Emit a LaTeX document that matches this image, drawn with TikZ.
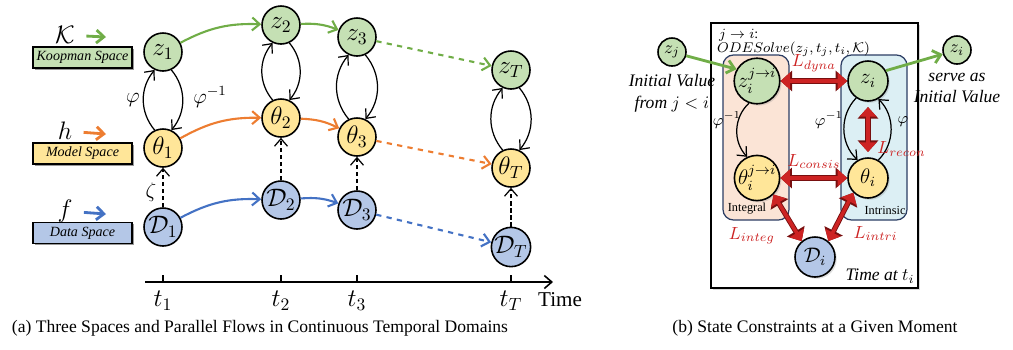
\documentclass[tikz,border=0pt]{standalone}
\usepackage{amsmath,amssymb}
\usepackage{fontspec}
\setmainfont{Liberation Serif}
\usetikzlibrary{arrows.meta,positioning,shadows,calc}
\definecolor{kGreen}{RGB}{197,224,180}
\definecolor{kYellow}{RGB}{255,230,153}
\definecolor{kBlue}{RGB}{180,199,231}
\definecolor{flowGreen}{RGB}{112,173,71}
\definecolor{flowOrange}{RGB}{237,125,49}
\definecolor{flowBlue}{RGB}{68,114,196}
\definecolor{boxPeach}{RGB}{251,228,214}
\definecolor{boxCyan}{RGB}{220,239,244}
\definecolor{boxEdge}{RGB}{44,62,100}
\definecolor{lossRed}{RGB}{205,35,35}
\definecolor{lossDark}{RGB}{120,15,15}

\begin{document}
\begin{tikzpicture}[
      x=0.2mm,y=-0.2mm,
      font=\normalsize,
      >={Straight Barb[length=1.5mm,width=2.6mm]},
      st/.style={circle,draw=black,line width=0.9pt,minimum size=7.6mm,inner sep=0pt,font=\Large},
      zst/.style={st,fill=kGreen},
      tst/.style={st,fill=kYellow},
      dst/.style={st,fill=kBlue},
      bst/.style={minimum size=8mm,font=\large,
                  drop shadow={opacity=0.25,shadow xshift=1pt,shadow yshift=-1pt}},
      sst/.style={minimum size=5.6mm,font=\normalsize},
      spbox/.style={rectangle,draw=black,line width=0.8pt,minimum width=19.8mm,
                    minimum height=4.2mm,inner sep=0pt,font=\footnotesize\itshape,
                    drop shadow={opacity=0.8,shadow xshift=1pt,shadow yshift=-1pt}},
      grp/.style={rectangle,rounded corners=6pt,draw=boxEdge,line width=0.7pt,
                  minimum width=13.2mm,minimum height=33mm},
      gflow/.style={->,flowGreen,line width=1.2pt},
      oflow/.style={->,flowOrange,line width=1.2pt},
      bflow/.style={->,flowBlue,line width=1.2pt},
      cyc/.style={->,black,line width=0.7pt},
      enc/.style={->,line width=0.7pt,dash pattern=on 2.5pt off 1.5pt},
      loss/.style={{Triangle[length=1.9mm,width=3.3mm]}-{Triangle[length=1.9mm,width=3.3mm]},
                   lossRed,line width=2pt,
                   preaction={draw=lossDark,line width=3pt,
                              arrows={Triangle[length=2.3mm,width=4mm]-Triangle[length=2.3mm,width=4mm]}}},
      lbl/.style={text=lossRed}]
    \useasboundingbox (0,0) rectangle (1013,349);

    % ---------- (a) space labels ----------
    \node[spbox,fill=kGreen]  (kbox) at (82.5,57.5)  {Koopman Space};
    \node[spbox,fill=kYellow] (mbox) at (82.5,153.5) {Model Space};
    \node[spbox,fill=kBlue]   (dbox) at (82.5,233)   {Data Space};
    \node[font=\Large] (kop) at (65,35)  {$\mathcal{K}$};
    \node[font=\Large] (hop) at (65,131) {$h$};
    \node[font=\Large] (fop) at (65,211) {$f$};
    \coordinate (kA) at (106,37);
    \coordinate (hA) at (106,134);
    \coordinate (fA) at (106,214);
    \draw[gflow,line width=1.6pt,shorten <=3pt] (kop) -- (kA);
    \draw[oflow,line width=1.6pt,shorten <=3pt] (hop) -- (hA);
    \draw[bflow,line width=1.6pt,shorten <=3pt] (fop) -- (fA);

    % ---------- (a) states ----------
    \node[zst] (z1) at (163,52)  {$z_1$};
    \node[zst] (z2) at (281,25)  {$z_2$};
    \node[zst] (z3) at (357,37)  {$z_3$};
    \node[zst] (zT) at (511,70)  {$z_T$};
    \node[tst] (th1) at (163,148) {$\theta_1$};
    \node[tst] (th2) at (281,118) {$\theta_2$};
    \node[tst] (th3) at (357,137) {$\theta_3$};
    \node[tst] (thT) at (511,168) {$\theta_T$};
    \node[dst] (D1) at (163,227) {$\mathcal{D}_1$};
    \node[dst] (D2) at (281,200) {$\mathcal{D}_2$};
    \node[dst] (D3) at (357,210) {$\mathcal{D}_3$};
    \node[dst] (DT) at (511,247) {$\mathcal{D}_T$};

    \draw[gflow] (z1) to[bend left=15] (z2);
    \draw[gflow] (z2) to[bend left=12] (z3);
    \draw[gflow,dashed] (z3) -- (zT);
    \draw[oflow] (th1) to[bend left=15] (th2);
    \draw[oflow] (th2) to[bend left=12] (th3);
    \draw[oflow,dashed] (th3) -- (thT);
    \draw[bflow] (D1) to[bend left=15] (D2);
    \draw[bflow] (D2) to[bend left=12] (D3);
    \draw[bflow,dashed] (D3) -- (DT);

    \foreach \n in {1,2,3,T} {
      \draw[cyc] (th\n.115) to[bend left=40] (z\n.245);
      \draw[cyc] (z\n.295) to[bend left=40] (th\n.65);
      \draw[enc] (D\n) -- (th\n);
    }
    \node[font=\large] (phi)  at (133,100) {$\varphi$};
    \node[font=\large] (phiI) at (210,97)  {$\varphi^{-1}$};
    \node[font=\large] (zeta) at (151,192) {$\zeta$};

    % ---------- (a) time axis ----------
    \coordinate (ax0) at (145,282);
    \coordinate (ax1) at (553,282);
    \draw[->,line width=0.9pt] (ax0) -- (ax1);
    \foreach \x/\n in {163/1,281/2,357/3,511/T} {
      \draw[line width=0.9pt] (\x,282) -- (\x,275);
      \node[font=\Large] (t\n) at (\x,301) {$t_{\n}$};
    }
    \node[font=\large,right=2pt of tT.base east,anchor=base west] (time) {Time};

    % ---------- (b) frame and groups ----------
    \node[draw=black,line width=1.4pt,minimum width=41.4mm,minimum height=53mm,
          drop shadow={opacity=0.3,shadow xshift=1pt,shadow yshift=-1pt},fill=white]
          (frm) at (814.5,155.5) {};
    \node[grp,fill=boxPeach] (intg) at (756,137.5) {};
    \node[grp,fill=boxCyan]  (intr) at (874,137.5) {};
    \node[anchor=west,font=\footnotesize] (jarr) at (713,35) {$j\rightarrow i$:};
    \node[anchor=west,font=\footnotesize] (ode)  at (711,49) {$ODESolve(z_j,t_j,t_i,\mathcal{K})$};

    % ---------- (b) states ----------
    \node[zst,bst] (zji) at (757,81)  {$z_i^{j\rightarrow i}$};
    \node[zst,bst] (zi)  at (868,81)  {$z_i$};
    \node[tst,bst] (thji) at (757,178) {$\theta_i^{j\rightarrow i}$};
    \node[tst,bst] (thi)  at (868,178) {$\theta_i$};
    \node[dst,bst] (Di)   at (815,257) {$\mathcal{D}_i$};
    \node[zst,sst] (zj) at (672,52) {$z_j$};
    \node[zst,sst] (zo) at (957,50) {$z_i$};
    \node[font=\itshape,align=center,below=1pt of zj] (ivl) {Initial Value\\from $j<i$};
    \node[font=\itshape,align=center,below=1pt of zo] (sv)  {serve as\\Initial Value};
    \node[font=\scriptsize] (igl) at (747,209) {Integral};
    \node[font=\scriptsize] (inl) at (885,210) {Intrinsic};
    \node[font=\itshape] (tat) at (880,276) {Time at $t_i$};

    \draw[gflow,line width=1.6pt] (zj) -- (zji.150);
    \draw[gflow,line width=1.6pt] (zi.30) -- (zo);

    \draw[cyc] (zji.250) to[bend right=45] (thji.115);
    \draw[cyc] (zi.235) to[bend right=45] (thi.120);
    \draw[cyc] (thi.60) to[bend right=45] (zi.300);
    \node[font=\small] (phb1) at (727,120) {$\varphi^{-1}$};
    \node[font=\small] (phb2) at (829,120) {$\varphi^{-1}$};
    \node[font=\small] (phb3) at (903,122) {$\varphi$};

    % ---------- (b) constraints ----------
    \draw[loss] (zji) -- (zi) node[midway,above=1pt,lbl] {$L_{dyna}$};
    \draw[loss] (thji) -- (thi) node[midway,above=1pt,lbl] {$L_{consis}$};
    \draw[loss,shorten <=3pt,shorten >=3pt] (zi) -- (thi)
          node[pos=0.85,anchor=west,xshift=1pt,lbl] {$L_{recon}$};
    \draw[loss] (thji.-45) -- (Di.130) node[midway,below left=1pt and 3pt,lbl] {$L_{integ}$};
    \draw[loss] (thi.225) -- (Di.50) node[midway,below right=1pt and 3pt,lbl] {$L_{intri}$};

    % ---------- captions ----------
    \node (capa) at (260,328) {(a) Three Spaces and Parallel Flows in Continuous Temporal Domains};
    \node (capb) at (815,328) {(b) State Constraints at a Given Moment};
  \end{tikzpicture}
\end{document}
